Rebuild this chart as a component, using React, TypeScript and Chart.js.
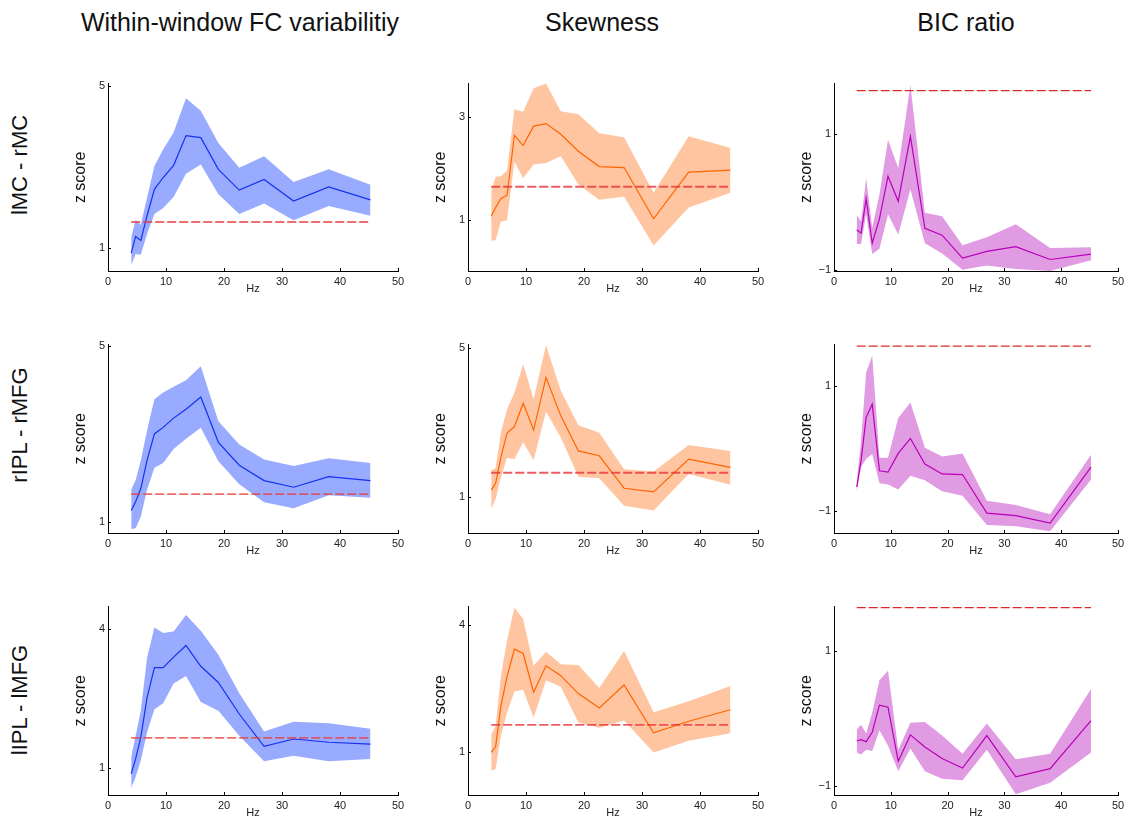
import React, { useEffect, useRef } from "react";
import { Chart, registerables } from "chart.js";
Chart.register(...registerables);

// ---------- data ----------
const freqs = [4, 4.76, 5.66, 6.73, 8, 9.51, 11.31, 13.45, 16, 19.03, 22.63, 26.91, 32, 38.05, 45.25];
const threshold = 1.645;
const xTicks = [0, 10, 20, 30, 40, 50];

const colTitles = ["Within-window FC variabilitiy", "Skewness", "BIC ratio"];
const rowLabels = ["lMC - rMC", "rIPL - rMFG", "lIPL - lMFG"];

// Row 1: lMC - rMC
const p1Mean = [0.88, 1.29, 1.19, 1.8, 2.45, 2.74, 3.04, 3.77, 3.72, 2.94, 2.43, 2.69, 2.16, 2.51, 2.19];
const p1Upper = [1.27, 1.7, 1.58, 2.25, 3.02, 3.43, 3.85, 4.69, 4.38, 3.59, 2.98, 3.26, 2.63, 2.94, 2.56];
const p1Lower = [0.58, 0.86, 0.84, 1.35, 1.84, 1.99, 2.26, 2.83, 3.06, 2.33, 1.84, 2.1, 1.69, 2.04, 1.8];
const p1Y = [0.44, 5.05];
const p1Ticks = [1, 5];

const p2Mean = [1.07, 1.24, 1.41, 1.48, 2.65, 2.45, 2.83, 2.88, 2.67, 2.34, 2.04, 2.02, 1.02, 1.93, 1.97];
const p2Upper = [1.57, 1.84, 1.85, 1.96, 3.16, 3.11, 3.57, 3.66, 3.12, 3.06, 2.69, 2.61, 1.53, 2.63, 2.4];
const p2Lower = [0.59, 0.6, 0.96, 0.99, 2.14, 1.81, 2.08, 2.11, 2.24, 1.69, 1.39, 1.45, 0.5, 1.24, 1.53];
const p2Y = [0, 3.66];
const p2Ticks = [1, 3];

const p3Mean = [-0.41, -0.46, 0.05, -0.61, -0.25, 0.38, 0.01, 0.97, -0.39, -0.49, -0.83, -0.73, -0.66, -0.85, -0.77];
const p3Upper = [-0.19, -0.29, 0.35, -0.38, 0.11, 0.92, 0.5, 1.73, -0.16, -0.21, -0.64, -0.52, -0.33, -0.68, -0.67];
const p3Lower = [-0.62, -0.62, -0.18, -0.77, -0.69, -0.18, -0.48, 0.19, -0.61, -0.76, -1.0, -0.94, -0.99, -1.02, -0.86];
const p3Y = [-1.02, 1.75];
const p3Ticks = [-1, 1];

// Row 2: rIPL - rMFG
const p4Mean = [1.27, 1.47, 1.77, 2.41, 3.01, 3.16, 3.37, 3.57, 3.85, 2.82, 2.3, 1.95, 1.8, 2.04, 1.95];
const p4Upper = [1.74, 1.96, 2.41, 3.09, 3.8, 3.95, 4.08, 4.23, 4.55, 3.3, 2.77, 2.43, 2.28, 2.46, 2.35];
const p4Lower = [0.85, 0.87, 1.13, 1.74, 2.24, 2.35, 2.67, 2.9, 3.15, 2.39, 1.87, 1.46, 1.32, 1.62, 1.56];
const p4Y = [0.76, 5.04];
const p4Ticks = [1, 5];

const p5Mean = [1.18, 1.36, 2.05, 2.71, 2.88, 3.51, 2.79, 4.2, 3.17, 2.23, 2.1, 1.23, 1.13, 2.01, 1.79];
const p5Upper = [1.7, 1.77, 2.72, 3.35, 3.79, 4.55, 3.62, 5.07, 3.84, 2.92, 2.72, 1.74, 1.68, 2.39, 2.23];
const p5Lower = [0.67, 0.94, 1.52, 2.05, 2.01, 2.46, 1.98, 3.29, 2.59, 1.54, 1.5, 0.76, 0.63, 1.61, 1.32];
const p5Y = [0.03, 5.08];
const p5Ticks = [1, 5];

const p6Mean = [-0.62, -0.2, 0.5, 0.71, -0.36, -0.38, -0.08, 0.16, -0.25, -0.41, -0.42, -1.04, -1.08, -1.2, -0.3];
const p6Upper = [-0.54, 0.12, 1.22, 1.49, -0.15, -0.15, 0.49, 0.74, 0.01, -0.13, -0.08, -0.84, -0.91, -1.06, -0.1];
const p6Lower = [-0.7, -0.3, -0.17, -0.09, -0.56, -0.58, -0.66, -0.44, -0.51, -0.69, -0.76, -1.23, -1.25, -1.33, -0.5];
const p6Y = [-1.36, 1.67];
const p6Ticks = [-1, 1];

// Row 3: lIPL - lMFG
const p7Mean = [0.87, 1.19, 1.66, 2.51, 3.16, 3.16, 3.39, 3.64, 3.19, 2.84, 2.16, 1.46, 1.62, 1.55, 1.51];
const p7Upper = [1.23, 1.69, 2.23, 3.37, 4.03, 3.91, 3.94, 4.3, 3.96, 3.44, 2.61, 1.78, 1.99, 1.96, 1.84];
const p7Lower = [0.56, 0.8, 1.16, 1.76, 2.26, 2.39, 2.82, 2.98, 2.42, 2.23, 1.69, 1.14, 1.26, 1.14, 1.19];
const p7Y = [0.41, 4.48];
const p7Ticks = [1, 4];

const p8Mean = [1.0, 1.13, 2.08, 2.78, 3.42, 3.32, 2.41, 3.03, 2.8, 2.38, 2.04, 2.58, 1.46, 1.73, 2.0];
const p8Upper = [1.42, 1.62, 2.78, 3.63, 4.4, 4.13, 3.03, 3.36, 3.07, 3.05, 2.51, 3.38, 1.94, 2.2, 2.56];
const p8Lower = [0.57, 0.61, 1.39, 1.93, 2.43, 2.47, 1.81, 2.69, 2.54, 1.7, 1.58, 1.75, 1.0, 1.27, 1.45];
const p8Y = [0, 4.42];
const p8Ticks = [1, 4];

const p9Mean = [-0.33, -0.31, -0.34, -0.2, 0.2, 0.17, -0.63, -0.24, -0.42, -0.59, -0.73, -0.25, -0.86, -0.74, -0.03];
const p9Upper = [-0.16, -0.09, -0.22, 0.09, 0.57, 0.71, -0.46, -0.06, -0.05, -0.25, -0.52, -0.07, -0.6, -0.52, 0.44];
const p9Lower = [-0.5, -0.53, -0.46, -0.48, -0.17, -0.4, -0.78, -0.44, -0.78, -0.89, -0.91, -0.46, -1.12, -0.95, -0.5];
const p9Y = [-1.13, 1.66];
const p9Ticks = [-1, 1];

// ---------- styles / layout ----------
const FONT = "'Liberation Sans', Arial, Helvetica, sans-serif";
const colStyles = [
  { line: "rgb(20,50,240)", band: "rgb(152,171,255)", red: "rgba(232,60,60,0.75)", redWidth: 1.8 },
  { line: "rgb(255,100,0)", band: "rgb(255,197,160)", red: "rgba(232,50,60,0.8)", redWidth: 1.8 },
  { line: "rgb(185,0,185)", band: "rgb(224,155,226)", red: "rgb(222,40,40)", redWidth: 1.2 },
];
const colL = [108, 468, 834];
const colR = [398, 758, 1118];
const rowT = [82, 343, 605];
const rowB = [271, 533, 795];
const Y_AXIS_W = 37;
const X_AXIS_H = 25;
const PAD = { left: 2, top: 8, right: 12, bottom: 4 };

const panels = [
  { mean: p1Mean, upper: p1Upper, lower: p1Lower, y: p1Y, ticks: p1Ticks },
  { mean: p2Mean, upper: p2Upper, lower: p2Lower, y: p2Y, ticks: p2Ticks },
  { mean: p3Mean, upper: p3Upper, lower: p3Lower, y: p3Y, ticks: p3Ticks },
  { mean: p4Mean, upper: p4Upper, lower: p4Lower, y: p4Y, ticks: p4Ticks },
  { mean: p5Mean, upper: p5Upper, lower: p5Lower, y: p5Y, ticks: p5Ticks },
  { mean: p6Mean, upper: p6Upper, lower: p6Lower, y: p6Y, ticks: p6Ticks },
  { mean: p7Mean, upper: p7Upper, lower: p7Lower, y: p7Y, ticks: p7Ticks },
  { mean: p8Mean, upper: p8Upper, lower: p8Lower, y: p8Y, ticks: p8Ticks },
  { mean: p9Mean, upper: p9Upper, lower: p9Lower, y: p9Y, ticks: p9Ticks },
];

const toPts = (arr: number[]) => freqs.map((f, i) => ({ x: f, y: arr[i] }));

const inwardTicks = {
  id: "inwardTicks",
  afterDraw(chart: any) {
    const { ctx, chartArea, scales } = chart;
    ctx.save();
    ctx.strokeStyle = "#000";
    ctx.lineWidth = 1;
    scales.x.ticks.forEach((t: any) => {
      const px = Math.round(scales.x.getPixelForValue(t.value)) + 0.5;
      ctx.beginPath();
      ctx.moveTo(px, chartArea.bottom);
      ctx.lineTo(px, chartArea.bottom - 3);
      ctx.stroke();
    });
    scales.y.ticks.forEach((t: any) => {
      const py = Math.round(scales.y.getPixelForValue(t.value)) + 0.5;
      ctx.beginPath();
      ctx.moveTo(chartArea.left, py);
      ctx.lineTo(chartArea.left + 3, py);
      ctx.stroke();
    });
    ctx.restore();
  },
};

function Panel({ idx }: { idx: number }) {
  const ref = useRef<HTMLCanvasElement | null>(null);
  const p = panels[idx];
  const col = idx % 3;
  const row = Math.floor(idx / 3);
  const st = colStyles[col];
  const L = colL[col], R = colR[col], T = rowT[row], B = rowB[row];
  const left = L - Y_AXIS_W - PAD.left;
  const top = T - PAD.top;
  const width = R - L + Y_AXIS_W + PAD.left + PAD.right;
  const height = B - T + PAD.top + X_AXIS_H + PAD.bottom;

  useEffect(() => {
    if (!ref.current) return;
    const chart = new Chart(ref.current, {
      type: "line",
      data: {
        datasets: [
          {
            data: [
              { x: freqs[0], y: threshold },
              { x: freqs[freqs.length - 1], y: threshold },
            ],
            borderColor: st.red,
            borderWidth: st.redWidth,
            borderDash: [9, 3],
            pointRadius: 0,
            fill: false,
          },
          {
            data: toPts(p.mean),
            borderColor: st.line,
            borderWidth: 1.2,
            pointRadius: 0,
            fill: false,
          },
          {
            data: toPts(p.lower),
            borderColor: "rgba(0,0,0,0)",
            borderWidth: 0,
            backgroundColor: st.band,
            pointRadius: 0,
            fill: false,
          },
          {
            data: toPts(p.upper),
            borderColor: "rgba(0,0,0,0)",
            borderWidth: 0,
            backgroundColor: st.band,
            pointRadius: 0,
            fill: "-1",
          },
        ],
      },
      options: {
        responsive: false,
        animation: false,
        devicePixelRatio: 1,
        layout: { padding: PAD },
        plugins: {
          legend: { display: false },
          tooltip: { enabled: false },
          filler: { propagate: false, drawTime: "beforeDatasetsDraw" },
        } as any,
        scales: {
          x: {
            type: "linear",
            min: 0,
            max: 50,
            grid: { display: false, drawTicks: false },
            border: { display: true, color: "#000", width: 1 },
            afterBuildTicks: (s: any) => {
              s.ticks = xTicks.map((v) => ({ value: v }));
            },
            afterFit: (s: any) => {
              s.height = X_AXIS_H;
            },
            ticks: {
              padding: 4,
              color: "#222",
              font: { family: FONT, size: 11 },
              maxRotation: 0,
              autoSkip: false,
            },
            title: {
              display: true,
              text: "Hz",
              color: "#222",
              padding: { top: 0, bottom: 0 },
              font: { family: FONT, size: 11 },
            },
          },
          y: {
            type: "linear",
            min: p.y[0],
            max: p.y[1],
            grid: { display: false, drawTicks: false },
            border: { display: true, color: "#000", width: 1 },
            afterBuildTicks: (s: any) => {
              s.ticks = p.ticks.map((v) => ({ value: v }));
            },
            afterFit: (s: any) => {
              s.width = Y_AXIS_W;
            },
            ticks: {
              padding: 3,
              color: "#222",
              font: { family: FONT, size: 11 },
              callback: (v: any) => String(v).replace("-", "\u2212"),
            },
            title: {
              display: true,
              text: "z score",
              color: "#111",
              padding: { top: 0, bottom: 0 },
              font: { family: FONT, size: 16 },
            },
          },
        },
      },
      plugins: [inwardTicks],
    } as any);
    return () => chart.destroy();
  }, [idx]);

  return (
    <canvas
      ref={ref}
      width={width}
      height={height}
      style={{ position: "absolute", left, top, width, height }}
    />
  );
}

const titleX = [240, 602, 966];
const rowLabelY = [165, 425, 700];

export default function App() {
  return (
    <div
      style={{
        position: "absolute",
        left: 0,
        top: 0,
        width: 1135,
        height: 816,
        background: "#fff",
        overflow: "hidden",
        fontFamily: FONT,
      }}
    >
      {colTitles.map((t, i) => (
        <div
          key={t}
          style={{
            position: "absolute",
            left: titleX[i],
            top: 22,
            transform: "translate(-50%, -50%)",
            fontSize: 25,
            color: "#111",
            whiteSpace: "nowrap",
            lineHeight: 1,
          }}
        >
          {t}
        </div>
      ))}
      {rowLabels.map((t, i) => (
        <div
          key={t}
          style={{
            position: "absolute",
            left: 20,
            top: rowLabelY[i],
            transform: "translate(-50%, -50%) rotate(-90deg)",
            fontSize: 22,
            color: "#111",
            whiteSpace: "nowrap",
            lineHeight: 1,
          }}
        >
          {t}
        </div>
      ))}
      {panels.map((_, i) => (
        <Panel key={i} idx={i} />
      ))}
    </div>
  );
}
